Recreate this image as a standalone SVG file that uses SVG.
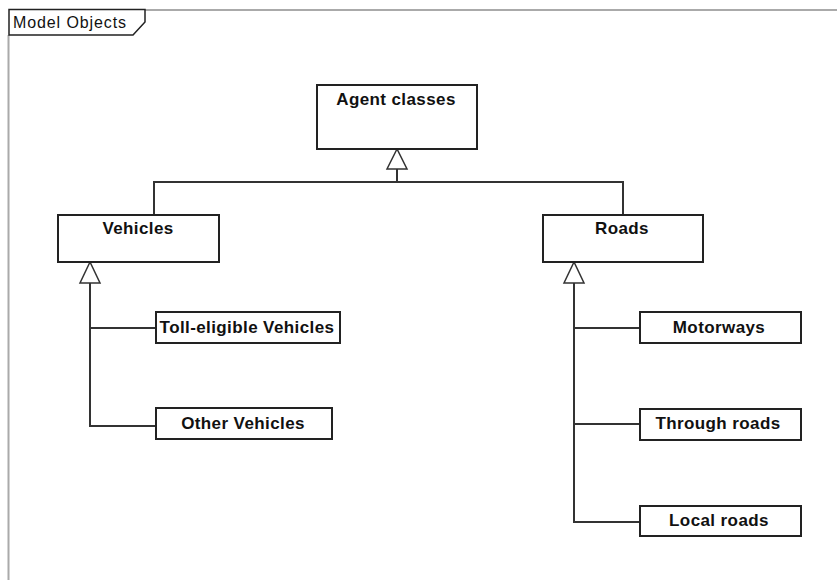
<svg xmlns="http://www.w3.org/2000/svg" width="837" height="580" viewBox="0 0 837 580">
<defs>
<style>
.box{fill:#fff;stroke:#222;stroke-width:2}
.lbl{font-family:"Liberation Sans",Arial,sans-serif;font-weight:bold;font-size:17px;letter-spacing:0.4px;fill:#111;text-anchor:middle}
.ln{fill:none;stroke:#333;stroke-width:2}
.tri{fill:#fff;stroke:#333;stroke-width:1.5}
.frame{fill:none;stroke:#aaa;stroke-width:2}
</style>
</defs>
<rect width="837" height="580" fill="#fff"/>
<g id="frame">
<path class="frame" d="M145,10 H837 M8.5,35 V580"/>
<polygon points="9,9.5 145,9.5 145,22 133,35 9,35" fill="#fff" stroke="#222" stroke-width="1.5"/>
<text x="13" y="28" font-family="Liberation Sans,Arial,sans-serif" font-size="16" letter-spacing="0.9" fill="#111">Model Objects</text>
</g>
<g id="connectors">
<path class="ln" d="M397,169 V182 M154,215 V182 H623 V215"/>
<path class="ln" d="M90,283 V426 H156 M90,328 H156"/>
<path class="ln" d="M574,283 V522 H640 M574,328 H640 M574,424 H640"/>
<polygon class="tri" points="397,149 387,169 407,169"/>
<polygon class="tri" points="90,262 80,283 100,283"/>
<polygon class="tri" points="574,262 564,283 584,283"/>
</g>
<g id="agent-classes"><rect class="box" x="317" y="85" width="160" height="64"/><text class="lbl" x="396" y="105">Agent classes</text></g>
<g id="vehicles"><rect class="box" x="58" y="215" width="161" height="47"/><text class="lbl" x="138" y="234">Vehicles</text></g>
<g id="roads"><rect class="box" x="543" y="215" width="160" height="47"/><text class="lbl" x="622" y="234">Roads</text></g>
<g id="toll-eligible-vehicles"><rect class="box" x="156" y="312" width="184" height="31"/><text class="lbl" x="247" y="333">Toll-eligible Vehicles</text></g>
<g id="other-vehicles"><rect class="box" x="156" y="408" width="176" height="31"/><text class="lbl" x="243" y="429">Other Vehicles</text></g>
<g id="motorways"><rect class="box" x="640" y="312" width="161" height="31"/><text class="lbl" x="719" y="333">Motorways</text></g>
<g id="through-roads"><rect class="box" x="640" y="409" width="161" height="31"/><text class="lbl" x="718" y="429">Through roads</text></g>
<g id="local-roads"><rect class="box" x="640" y="506" width="161" height="30"/><text class="lbl" x="719" y="526">Local roads</text></g>
</svg>
